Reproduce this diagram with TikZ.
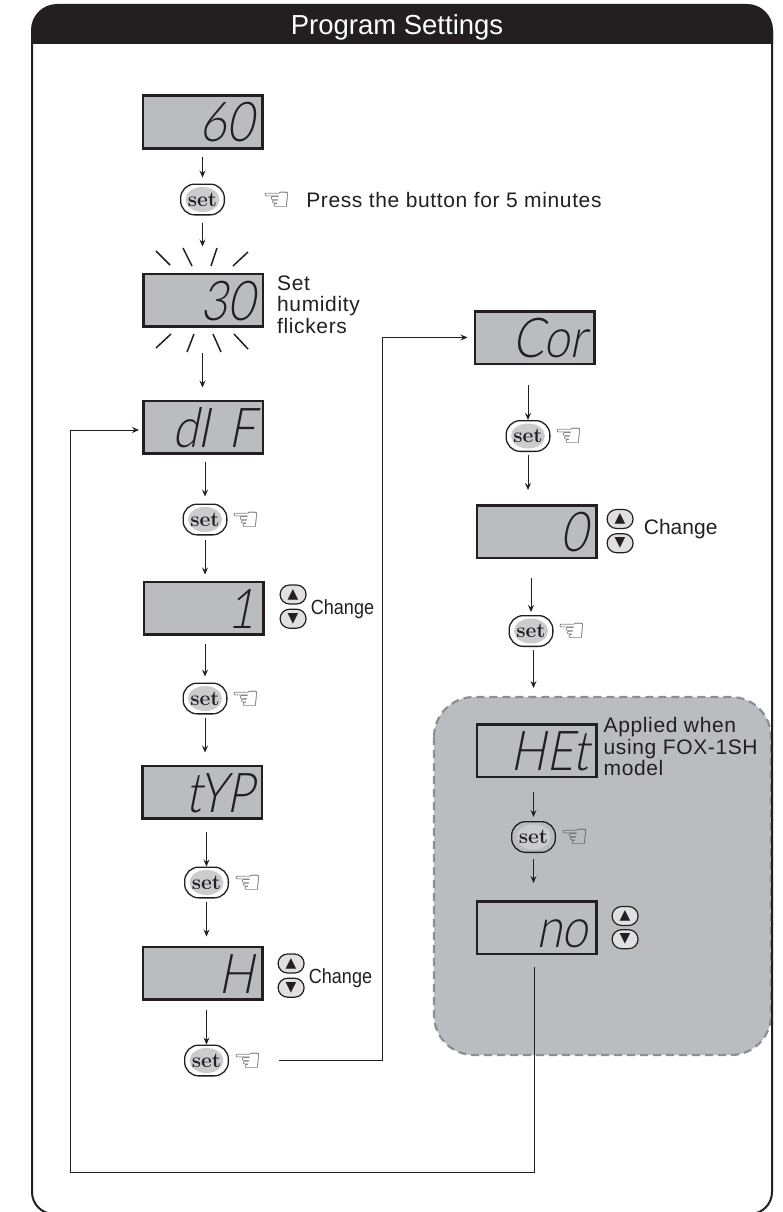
\documentclass[tikz,border=0pt]{standalone}
\usepackage{fontspec}
\setmainfont{Liberation Sans}
\newfontfamily\lcdfont[FakeSlant=.2,FakeStretch=.85]{Lato Light}
\newfontfamily\symfont{DejaVu Sans}
\newfontfamily\keyfont{Latin Modern Roman}
\usetikzlibrary{arrows.meta, positioning, shapes.geometric}
\definecolor{lcdgray}{HTML}{BBBCC0}
\definecolor{inkblack}{HTML}{231F20}
\definecolor{keygray}{HTML}{CBCCCE}
\definecolor{edgegray}{HTML}{8E8E92}
\tikzset{
    lcd/.style={draw=inkblack, line width=2.5pt, fill=lcdgray, text=inkblack, minimum width=119.5pt, minimum height=52.5pt, inner ysep=6pt, inner xsep=0pt, text width=103pt, align=right, text height=40pt, text depth=0pt, font=\lcdfont\fontsize{55}{55}\selectfont},
    setkey/.style={draw=inkblack, line width=1.3pt, fill=white, rounded corners=14pt, minimum width=43.7pt, minimum height=30.7pt, inner sep=0pt, text=inkblack, font=\keyfont\bfseries\fontsize{21}{21}\selectfont, path picture={\fill[keygray] (path picture bounding box.center) ellipse (17pt and 12.5pt);}},
    hand/.style={inner sep=0pt, text=black!70, font=\symfont\fontsize{32}{32}\selectfont},
    updown/.style={draw=inkblack, line width=1.2pt, fill=black!12, rounded corners=9.5pt, minimum width=26pt, minimum height=19pt, inner sep=0pt, text=inkblack, font=\symfont\fontsize{14}{14}\selectfont},
    note/.style={inner sep=0pt, text=inkblack, align=left, font=\fontsize{21}{21.5}\selectfont\addfontfeatures{LetterSpace=3}},
    change/.style={inner sep=0pt, text=inkblack, font=\fontsize{20.5}{20.5}\selectfont\addfontfeatures{FakeStretch=.88}},
    arrow/.style={-{Stealth[length=7pt,width=6pt,inset=2.5pt]}, line width=1pt, inkblack},
    spark/.style={line width=1.5pt, inkblack}
}
\begin{document}
\begin{tikzpicture}[x=1pt, y=-1pt]
    \useasboundingbox (0,0) rectangle (782,1212);
    % grey part for the other model
    \draw [draw=edgegray, fill=lcdgray, line width=2.2pt, dash pattern=on 8pt off 5pt, rounded corners=40pt] (434,697) rectangle (771,1055);
    % frame and title bar
    \draw [inkblack, line width=2pt, rounded corners=22pt] (32,30) -- (32,1214) -- (772,1214) -- (772,30);
    \fill [inkblack, rounded corners=26pt] (31,44) -- (31,4) -- (773,4) -- (773,44);
    \node [text=white, font=\fontsize{27.5}{27.5}\selectfont, inner sep=0pt] (title) at (397,27) {Program Settings};
    % left column
    \node [lcd] (lcdSix) at (202.5,122) {60};
    \node [setkey, below=34pt of lcdSix] (setA) {set};
    \node [lcd, below=57pt of setA, xshift=.5pt] (lcdThirty) {30\hspace{23pt}};
    \node [lcd, below=72pt of lcdThirty] (lcdDif) {dI F};
    \node [setkey, below=49pt of lcdDif, xshift=2pt] (setB) {set};
    \node [lcd, below=45pt of setB, xshift=-1.5pt] (lcdOne) {1};
    \node [setkey, below=47pt of lcdOne, xshift=1.5pt] (setC) {set};
    \node [lcd, below=50pt of setC, xshift=-3pt] (lcdTyp) {tYP};
    \node [setkey, below=47pt of lcdTyp, xshift=4.5pt] (setD) {set};
    \node [lcd, below=47pt of setD, xshift=-4pt] (lcdH) {H};
    \node [setkey, below=44pt of lcdH, xshift=4pt] (setE) {set};
    % right column
    \node [lcd] (lcdCor) at (534.5,337.5) {Cor};
    \node [setkey, below=55pt of lcdCor, xshift=-6.5pt] (setF) {set};
    \node [lcd, below=52pt of setF, xshift=8.5pt] (lcdZero) {0};
    \node [setkey, below=56pt of lcdZero, xshift=-5.5pt] (setG) {set};
    \node [lcd, below=76pt of setG, xshift=5.5pt] (lcdHet) {HEt};
    \node [setkey, fill=lcdgray, below=43pt of lcdHet, xshift=-3pt] (setH) {set};
    \node [lcd, below=47pt of setH, xshift=3pt] (lcdNo) {no};
    % hands
    \node [hand, right=37pt of setA, yshift=-1.5pt] (handA) {☜};
    \foreach \k in {B,C,D,E,F,G,H}
        \node [hand, right=4pt of set\k, yshift=-1.5pt] (hand\k) {☜};
    % up and down keys
    \node [updown, right=15pt of lcdOne, yshift=13.5pt] (upOne) {▲};
    \node [updown, below=4pt of upOne] (downOne) {▼};
    \node [updown, right=14pt of lcdH, yshift=9.5pt] (upH) {▲};
    \node [updown, below=4pt of upH] (downH) {▼};
    \node [updown, right=9pt of lcdZero, yshift=12.5pt] (upZero) {▲};
    \node [updown, below=4pt of upZero] (downZero) {▼};
    \node [updown, right=14pt of lcdNo, yshift=11.5pt] (upNo) {▲};
    \node [updown, below=3pt of upNo] (downNo) {▼};
    % notes
    \node [note, right=15pt of handA, yshift=1.5pt] (press) {Press the button for 5 minutes};
    \node [note, right=13pt of lcdThirty, yshift=-4.5pt] (flicker) {Set\\humidity\\flickers};
    \node [note, right=6pt of lcdHet, yshift=4pt] (applied) {Applied when\\using FOX-1SH\\model};
    \node [change, right=4pt of upOne, yshift=-15pt] (chgOne) {Change};
    \node [change, right=4pt of upH, yshift=-15pt] (chgH) {Change};
    \node [change, font=\fontsize{21}{21}\selectfont, right=10pt of upZero, yshift=-10pt] (chgZero) {Change};
    % flicker marks
    \foreach \xa/\ya/\xb/\yb in {156/251/170/265, 183/248/192/266, 217/248/211/266, 248/252/233/266, 171/334/156/348, 194/334/187/352, 213/334/221/352, 234/334/248/349}
        \draw [spark] (\xa,\ya) -- (\xb,\yb);
    % connectors
    \draw [arrow, shorten <=7pt, shorten >=6pt] (lcdSix.south -| setA.north) -- (setA.north);
    \draw [arrow, shorten <=7pt, shorten >=26pt] (setA.south) -- (setA.south |- lcdThirty.north);
    \draw [arrow, shorten <=25pt, shorten >=12pt] (lcdThirty.south -| setA.south) -- (setA.south |- lcdDif.north);
    \draw [arrow, shorten <=7pt, shorten >=7pt] (lcdDif.south -| setB.north) -- (setB.north);
    \draw [arrow, shorten <=4pt, shorten >=6pt] (setB.south) -- (setB.south |- lcdOne.north);
    \draw [arrow, shorten <=8pt, shorten >=6pt] (lcdOne.south -| setC.north) -- (setC.north);
    \draw [arrow, shorten <=3pt, shorten >=12pt] (setC.south) -- (setC.south |- lcdTyp.north);
    \draw [arrow, shorten <=12pt] (lcdTyp.south -| setD.north) -- (setD.north);
    \draw [arrow, shorten <=3pt, shorten >=9pt] (setD.south) -- (setD.south |- lcdH.north);
    \draw [arrow, shorten <=9pt] (lcdH.south -| setE.north) -- (setE.north);
    \coordinate (jogCor) at (382,337.5);
    \draw [arrow, shorten <=50pt, shorten >=6pt] (setE.east) -| (jogCor) -- (lcdCor.west);
    \draw [arrow, shorten <=20pt] (lcdCor.south -| setF.north) -- (setF.north);
    \draw [arrow, shorten <=3pt, shorten >=14pt] (setF.south) -- (setF.south |- lcdZero.north);
    \draw [arrow, shorten <=19pt, shorten >=3pt] (lcdZero.south -| setG.north) -- (setG.north);
    \draw [arrow, shorten <=3pt, shorten >=35pt] (setG.south -| setH.north) -- (setH.north |- lcdHet.north);
    \draw [arrow, shorten <=14pt, shorten >=4pt] (lcdHet.south -| setH.north) -- (setH.north);
    \draw [arrow, shorten <=6pt, shorten >=17pt] (setH.south) -- (setH.south |- lcdNo.north);
    \coordinate (loopRight) at (534,1172);
    \coordinate (loopLeft) at (70,1172);
    \draw [arrow, shorten <=12pt, shorten >=3pt] (lcdNo.south -| loopRight) -- (loopRight) -- (loopLeft) |- ([yshift=-3pt]lcdDif.west);
\end{tikzpicture}
\end{document}
